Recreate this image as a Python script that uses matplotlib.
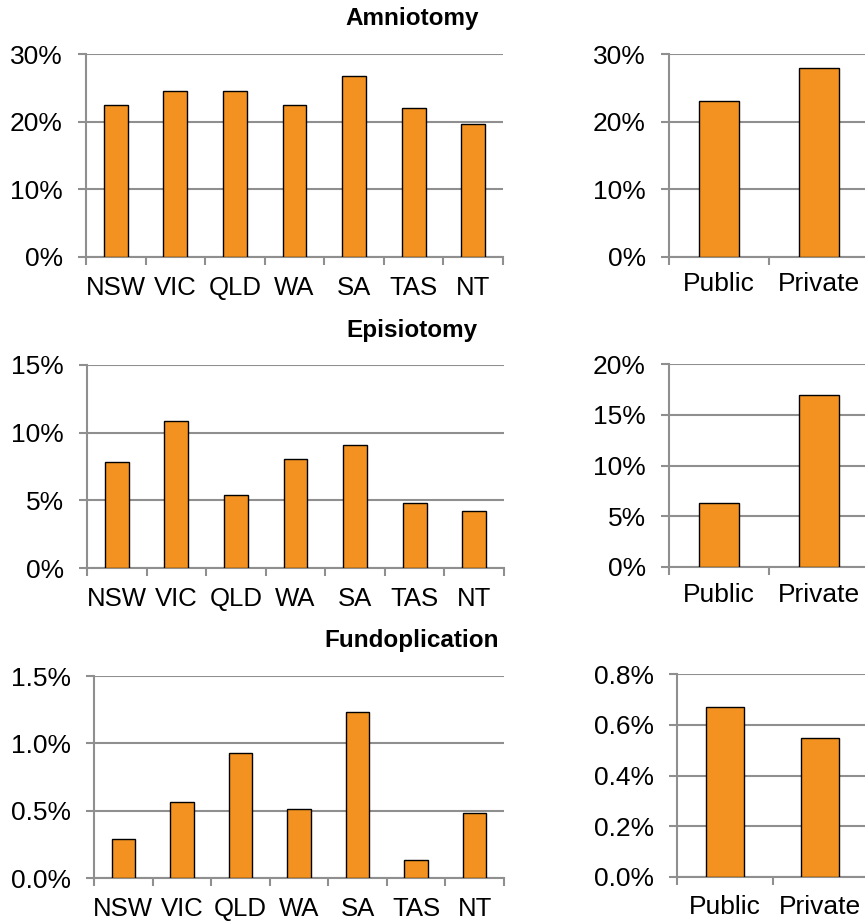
import matplotlib
matplotlib.use("Agg")
import matplotlib.pyplot as plt
import numpy as np

# values (per cent)
states = ["NSW", "VIC", "QLD", "WA", "SA", "TAS", "NT"]
sectors = ["Public", "Private"]

amnio_state = [22.5, 24.6, 24.5, 22.4, 26.7, 22.0, 19.6]
amnio_sector = [23.05, 27.98]

episio_state = [7.84, 10.85, 5.38, 8.02, 9.10, 4.83, 4.24]
episio_sector = [6.3, 16.98]

fundo_state = [0.286, 0.562, 0.925, 0.513, 1.233, 0.131, 0.479]
fundo_sector = [0.670, 0.548]

titles = ["Amniotomy", "Episiotomy", "Fundoplication"]

plt.rcParams["font.family"] = ["Liberation Sans", "DejaVu Sans"]

W, H = 865, 924
fig = plt.figure(figsize=(W / 100, H / 100), dpi=100)

bar_col = "#F39221"
grid_col = "#8f8f8f"


def px_axes(left, right, top, bottom):
    return fig.add_axes([left / W, 1 - bottom / H, (right - left) / W, (bottom - top) / H])


def draw(ax, cats, vals, ymax, step, fmt, xpad, xfs):
    x = np.arange(len(cats))
    ax.bar(x, vals, width=0.4, color=bar_col, edgecolor="black", linewidth=1.0, zorder=3)
    ax.set_xlim(-0.5, len(cats) - 0.5)
    ax.set_ylim(0, ymax)
    yt = np.arange(0, ymax + step / 2, step)
    ax.set_yticks(yt)
    ax.set_yticklabels([fmt.format(v) for v in yt], fontsize=19)
    ax.set_xticks(x)
    ax.set_xticklabels(cats, fontsize=xfs)
    ax.set_xticks(np.arange(len(cats) + 1) - 0.5, minor=True)
    ax.tick_params(axis="x", which="major", length=0, pad=xpad)
    ax.tick_params(axis="x", which="minor", length=5.8, width=1.5, color=grid_col)
    ax.tick_params(axis="y", length=5.8, width=1.5, color=grid_col, pad=11)
    ax.grid(axis="y", color=grid_col, linewidth=1.5, zorder=0)
    for s in ["top", "right"]:
        ax.spines[s].set_visible(False)
    for s in ["left", "bottom"]:
        ax.spines[s].set_color(grid_col)
        ax.spines[s].set_linewidth(1.5)
    ax.set_axisbelow(True)


# left column: by state
ax1 = px_axes(86, 503, 54, 257)
draw(ax1, states, amnio_state, 30, 10, "{:.0f}%", 14, 18.5)
ax2 = px_axes(87, 504, 365, 568)
draw(ax2, states, episio_state, 15, 5, "{:.0f}%", 14, 18.5)
ax3 = px_axes(94, 504, 676, 878)
draw(ax3, states, fundo_state, 1.5, 0.5, "{:.1f}%", 13.5, 18.5)

# right column: by sector (runs slightly past the right edge)
ax4 = px_axes(669, 869, 54, 257)
draw(ax4, sectors, amnio_sector, 30, 10, "{:.0f}%", 10.5, 19)
ax5 = px_axes(669, 869, 364, 567)
draw(ax5, sectors, episio_sector, 20, 5, "{:.0f}%", 11.5, 19)
ax6 = px_axes(677, 868, 674, 877)
draw(ax6, sectors, fundo_sector, 0.8, 0.2, "{:.1f}%", 13, 19)

for t, y in zip(titles, [19, 330, 640]):
    fig.text(412 / W, 1 - y / H, t, ha="center", va="center", fontsize=17.5, fontweight="bold")

fig.savefig("out.png", dpi=100)
